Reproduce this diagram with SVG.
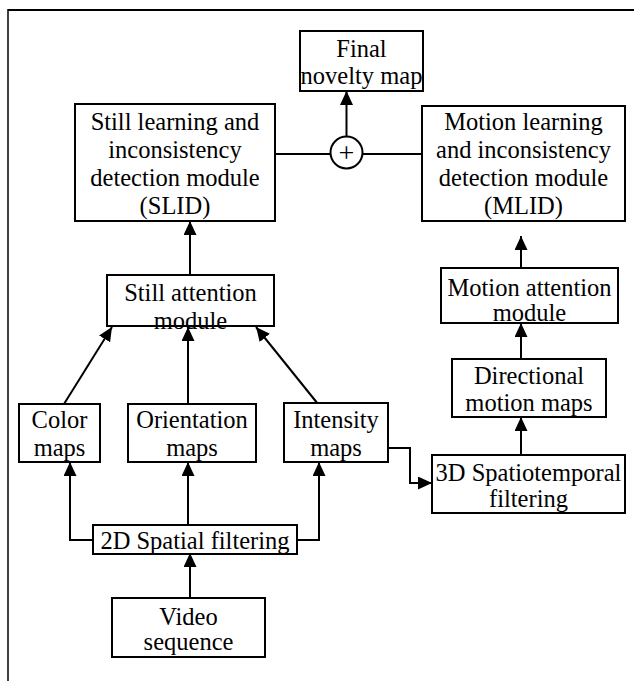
<svg xmlns="http://www.w3.org/2000/svg" width="634" height="681" viewBox="0 0 634 681">
<style>
.box{fill:#fff;stroke:#000;stroke-width:2}
.t{font-family:"Liberation Serif","Times New Roman",serif;font-size:24.5px;fill:#000;text-anchor:middle}
.c{fill:none;stroke:#000;stroke-width:2}
.a{marker-end:url(#ah)}
</style>
<defs>
<marker id="ah" markerUnits="userSpaceOnUse" markerWidth="14" markerHeight="13" refX="14" refY="6.5" orient="auto">
<path d="M0,0 L14,6.5 L0,13 Z" fill="#000"/>
</marker>
</defs>
<rect width="634" height="681" fill="#fff"/>
<g id="frame">
<line x1="8" y1="10" x2="634" y2="10" stroke="#000" stroke-width="2"/>
<line x1="8" y1="9" x2="8" y2="681" stroke="#000" stroke-width="1.5"/>
</g>
<g id="connectors">
<line class="c a" x1="190" y1="598" x2="190" y2="553"/>
<path class="c a" d="M93,540 H70 V462"/>
<line class="c a" x1="188" y1="525" x2="188" y2="462"/>
<path class="c a" d="M297,540 H319 V462"/>
<line class="c a" x1="64" y1="404" x2="112" y2="327"/>
<line class="c a" x1="188" y1="404" x2="188" y2="327"/>
<line class="c a" x1="318" y1="404" x2="256" y2="327"/>
<line class="c a" x1="190" y1="275" x2="190" y2="221"/>
<line class="c" x1="275" y1="154" x2="331" y2="154"/>
<line class="c" x1="362" y1="154" x2="422" y2="154"/>
<line class="c a" x1="346.5" y1="136.5" x2="346.5" y2="91"/>
<path class="c a" d="M388,448 H410 V483 H432"/>
<line class="c a" x1="521" y1="455" x2="521" y2="417"/>
<line class="c a" x1="521" y1="359" x2="521" y2="323"/>
<line class="c a" x1="521" y1="268" x2="521" y2="236"/>
</g>
<g id="final">
<rect class="box" x="300" y="31" width="123" height="60"/>
<text class="t" x="361.5" y="57">Final</text>
<text class="t" x="361.5" y="84">novelty map</text>
</g>
<g id="sum">
<circle cx="346.5" cy="152.5" r="16" fill="#fff" stroke="#000" stroke-width="2"/>
<text class="t" x="346.5" y="162" style="font-size:28px">+</text>
</g>
<g id="slid">
<rect class="box" x="75" y="104" width="200" height="117"/>
<text class="t" x="175" y="130">Still learning and</text>
<text class="t" x="175" y="158">inconsistency</text>
<text class="t" x="175" y="186">detection module</text>
<text class="t" x="175" y="214">(SLID)</text>
</g>
<g id="mlid">
<rect class="box" x="422" y="106" width="203" height="115"/>
<text class="t" x="523.5" y="130">Motion learning</text>
<text class="t" x="523.5" y="158">and inconsistency</text>
<text class="t" x="523.5" y="186">detection module</text>
<text class="t" x="523.5" y="214">(MLID)</text>
</g>
<g id="still-attention">
<rect class="box" x="107" y="275" width="167" height="51"/>
<text class="t" x="190.5" y="301">Still attention</text>
<text class="t" x="190.5" y="329">module</text>
</g>
<g id="motion-attention">
<rect class="box" x="441" y="268" width="177" height="55"/>
<text class="t" x="529.5" y="296">Motion attention</text>
<text class="t" x="529.5" y="321">module</text>
</g>
<g id="directional">
<rect class="box" x="452" y="359" width="154" height="58"/>
<text class="t" x="529" y="384">Directional</text>
<text class="t" x="529" y="411">motion maps</text>
</g>
<g id="color">
<rect class="box" x="19" y="404" width="81" height="58"/>
<text class="t" x="59.5" y="428">Color</text>
<text class="t" x="59.5" y="456">maps</text>
</g>
<g id="orientation">
<rect class="box" x="128" y="404" width="128" height="58"/>
<text class="t" x="192" y="428">Orientation</text>
<text class="t" x="192" y="456">maps</text>
</g>
<g id="intensity">
<rect class="box" x="284" y="403" width="104" height="59"/>
<text class="t" x="336" y="428">Intensity</text>
<text class="t" x="336" y="456">maps</text>
</g>
<g id="spatial3d">
<rect class="box" x="432" y="455" width="193" height="58"/>
<text class="t" x="528.5" y="481">3D Spatiotemporal</text>
<text class="t" x="528.5" y="507">filtering</text>
</g>
<g id="spatial2d">
<rect class="box" x="93" y="525" width="204" height="29"/>
<text class="t" x="195" y="549">2D Spatial filtering</text>
</g>
<g id="video">
<rect class="box" x="112" y="598" width="153" height="59"/>
<text class="t" x="188.5" y="625">Video</text>
<text class="t" x="188.5" y="650">sequence</text>
</g>
</svg>
